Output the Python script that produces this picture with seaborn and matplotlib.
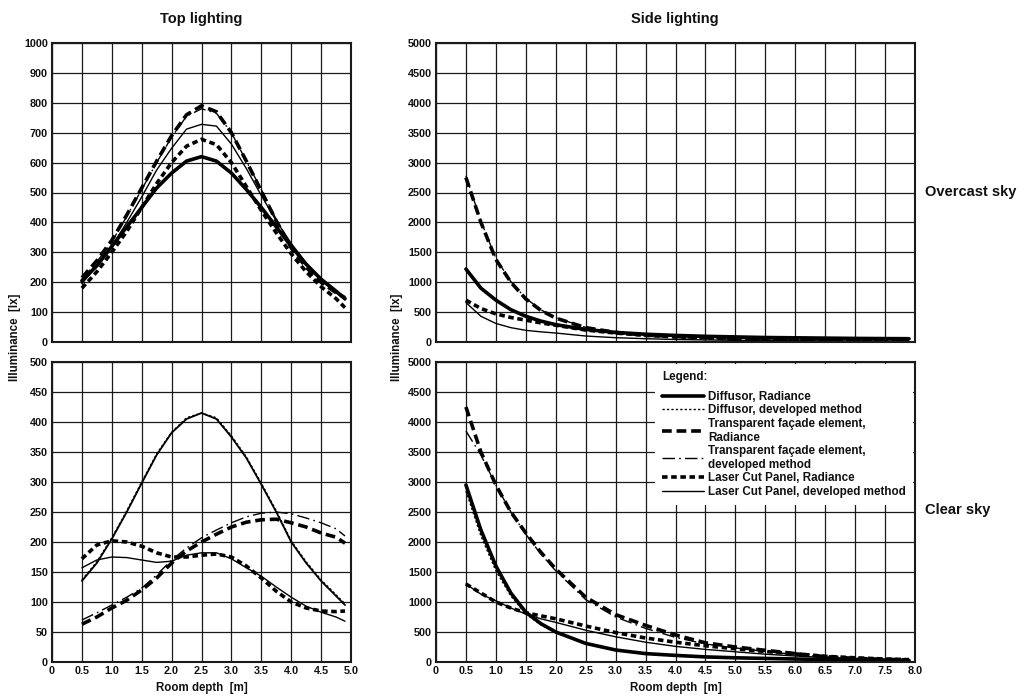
import matplotlib
matplotlib.use("Agg")
import matplotlib.pyplot as plt
from matplotlib.lines import Line2D
import numpy as np
import seaborn as sns

# ---------------- data ----------------
x_top = [0.5, 0.75, 1.0, 1.25, 1.5, 1.75, 2.0, 2.25, 2.5, 2.75, 3.0, 3.25, 3.5, 3.75, 4.0, 4.25, 4.5, 4.75, 4.9]
x_side = [0.5, 0.75, 1.0, 1.25, 1.5, 1.75, 2.0, 2.5, 3.0, 3.5, 4.0, 4.5, 5.0, 5.5, 6.0, 6.5, 7.0, 7.5, 7.9]

# Top lighting, overcast sky
top_oc_diff_rad = [205, 255, 320, 385, 450, 515, 565, 605, 620, 605, 565, 510, 450, 385, 320, 260, 210, 170, 145]
top_oc_diff_dev = [200, 252, 318, 383, 448, 513, 563, 603, 618, 603, 563, 508, 448, 383, 318, 258, 208, 168, 143]
top_oc_tfe_rad = [215, 272, 340, 425, 515, 605, 690, 760, 790, 770, 700, 605, 505, 405, 315, 250, 200, 165, 148]
top_oc_tfe_dev = [210, 268, 335, 420, 510, 600, 685, 755, 780, 765, 700, 605, 510, 410, 320, 255, 205, 165, 145]
top_oc_lcp_rad = [180, 235, 300, 370, 450, 530, 600, 655, 678, 660, 600, 520, 440, 365, 295, 235, 185, 145, 115]
top_oc_lcp_dev = [195, 255, 320, 400, 485, 575, 648, 712, 728, 722, 662, 580, 490, 405, 330, 265, 210, 165, 140]

# Top lighting, clear sky
top_cl_diff_rad = [135, 165, 205, 250, 298, 345, 382, 405, 415, 405, 375, 340, 296, 250, 200, 165, 135, 110, 95]
top_cl_diff_dev = [137, 167, 207, 252, 300, 347, 383, 407, 415, 407, 377, 342, 298, 252, 202, 167, 137, 112, 97]
top_cl_tfe_rad = [63, 75, 90, 103, 120, 140, 165, 185, 200, 213, 225, 233, 237, 238, 232, 225, 215, 208, 198]
top_cl_tfe_dev = [70, 82, 95, 108, 123, 145, 170, 190, 207, 220, 232, 242, 248, 250, 247, 240, 232, 222, 210]
top_cl_lcp_rad = [172, 195, 202, 200, 193, 182, 175, 175, 178, 180, 175, 160, 140, 118, 100, 90, 85, 84, 85]
top_cl_lcp_dev = [157, 170, 175, 174, 170, 166, 168, 178, 182, 182, 172, 157, 143, 125, 108, 93, 83, 75, 68]

# Side lighting, overcast sky
side_oc_diff_rad = [1220, 900, 700, 540, 430, 350, 290, 210, 160, 130, 110, 95, 85, 75, 70, 65, 60, 57, 55]
side_oc_diff_dev = [1240, 920, 710, 550, 440, 360, 300, 215, 165, 135, 115, 100, 90, 80, 72, 67, 62, 58, 55]
side_oc_tfe_rad = [2750, 2000, 1380, 1000, 720, 530, 400, 240, 160, 115, 90, 75, 62, 55, 48, 43, 40, 37, 35]
side_oc_tfe_dev = [2780, 2020, 1400, 1010, 730, 540, 405, 245, 162, 117, 92, 76, 63, 55, 48, 43, 40, 37, 35]
side_oc_lcp_rad = [700, 560, 470, 410, 365, 320, 280, 200, 150, 110, 85, 70, 55, 48, 42, 38, 35, 32, 30]
side_oc_lcp_dev = [660, 430, 310, 240, 195, 170, 150, 100, 72, 55, 42, 35, 28, 24, 21, 19, 17, 16, 15]

# Side lighting, clear sky
side_cl_diff_rad = [2950, 2200, 1600, 1150, 830, 640, 500, 310, 200, 140, 110, 85, 70, 60, 50, 42, 35, 30, 25]
side_cl_diff_dev = [2850, 2100, 1520, 1100, 800, 620, 490, 305, 198, 138, 108, 84, 69, 59, 49, 41, 35, 30, 25]
side_cl_tfe_rad = [4250, 3500, 2950, 2500, 2150, 1830, 1550, 1080, 790, 610, 450, 320, 250, 195, 140, 90, 60, 45, 35]
side_cl_tfe_dev = [3850, 3450, 2950, 2500, 2130, 1800, 1520, 1040, 750, 560, 410, 300, 235, 175, 125, 85, 60, 45, 35]
side_cl_lcp_rad = [1300, 1150, 1000, 900, 820, 770, 720, 600, 490, 400, 330, 270, 220, 175, 135, 95, 70, 50, 40]
side_cl_lcp_dev = [1300, 1130, 1020, 900, 800, 720, 660, 530, 420, 330, 260, 210, 170, 130, 100, 75, 60, 45, 35]

series_labels = [
    "Diffusor, Radiance",
    "Diffusor, developed method",
    "Transparent façade element,\nRadiance",
    "Transparent façade element,\ndeveloped method",
    "Laser Cut Panel, Radiance",
    "Laser Cut Panel, developed method",
]

# ---------------- style ----------------
sns.set_theme(style="white")
plt.rcParams["font.family"] = ["Liberation Sans", "DejaVu Sans"]
plt.rcParams["font.weight"] = "bold"
plt.rcParams["lines.scale_dashes"] = False
for key in ["text.color", "axes.labelcolor", "xtick.color", "ytick.color"]:
    plt.rcParams[key] = "#111111"

styles = [
    dict(linewidth=2.6, linestyle="-"),
    dict(linewidth=1.0, linestyle=(0, (1.6, 1.6))),
    dict(linewidth=2.6, linestyle=(0, (7, 3.5))),
    dict(linewidth=1.0, linestyle=(0, (9, 3, 1.2, 3))),
    dict(linewidth=2.6, linestyle=(0, (4, 2.6))),
    dict(linewidth=1.0, linestyle="-"),
]

fig = plt.figure(figsize=(10.35, 6.97), dpi=100)
W, H = 1035.0, 697.0


def make_ax(left, top, right, bottom):
    return fig.add_axes([left / W, 1 - bottom / H, (right - left) / W, (bottom - top) / H])


ax_tl = make_ax(52, 43, 351, 342)
ax_bl = make_ax(52, 362, 351, 662)
ax_tr = make_ax(436, 43, 915, 342)
ax_br = make_ax(436, 362, 915, 662)

panels = [
    (ax_tl, x_top, [top_oc_diff_rad, top_oc_diff_dev, top_oc_tfe_rad, top_oc_tfe_dev, top_oc_lcp_rad, top_oc_lcp_dev],
     5.0, 1000, 100, False),
    (ax_bl, x_top, [top_cl_diff_rad, top_cl_diff_dev, top_cl_tfe_rad, top_cl_tfe_dev, top_cl_lcp_rad, top_cl_lcp_dev],
     5.0, 500, 50, True),
    (ax_tr, x_side, [side_oc_diff_rad, side_oc_diff_dev, side_oc_tfe_rad, side_oc_tfe_dev, side_oc_lcp_rad, side_oc_lcp_dev],
     8.0, 5000, 500, False),
    (ax_br, x_side, [side_cl_diff_rad, side_cl_diff_dev, side_cl_tfe_rad, side_cl_tfe_dev, side_cl_lcp_rad, side_cl_lcp_dev],
     8.0, 5000, 500, True),
]

for ax, xs, ys_list, xmax, ymax, ystep, show_x in panels:
    for i, ys in enumerate(ys_list):
        st = dict(styles[i])
        if ax is ax_bl and i == 0:
            st["linewidth"] = 1.3
        sns.lineplot(x=xs, y=ys, ax=ax, color="black", sort=False, errorbar=None, **st)
    ax.set_xlim(0, xmax)
    ax.set_ylim(0, ymax)
    xt = np.arange(0, xmax + 0.01, 0.5)
    ax.set_xticks(xt)
    ax.set_yticks(np.arange(0, ymax + 1, ystep))
    if show_x:
        ax.set_xticklabels(["0" if v == 0 else f"{v:.1f}" for v in xt])
        ax.set_xlabel("Room depth  [m]", fontsize=8.3, fontweight="bold", labelpad=4)
    else:
        ax.set_xticklabels([])
        ax.set_xlabel("")
    ax.set_ylabel("")
    ax.grid(True, color="#1a1a1a", linewidth=0.9)
    ax.set_axisbelow(True)
    ax.tick_params(axis="both", length=0, pad=3, labelsize=7.8)
    for lab in ax.get_xticklabels() + ax.get_yticklabels():
        lab.set_fontweight("bold")
    for sp in ax.spines.values():
        sp.set_visible(True)
        sp.set_color("#1a1a1a")
        sp.set_linewidth(1.5)
    leg = ax.get_legend()
    if leg is not None:
        leg.remove()

handles = [Line2D([0], [0], color="black", **st) for st in styles]
leg = ax_br.legend(handles, series_labels, loc="upper right", bbox_to_anchor=(1.0, 1.0),
                   title="Legend:", alignment="left", frameon=True, fancybox=False,
                   framealpha=1, facecolor="white", edgecolor="none", borderaxespad=0.15,
                   handlelength=3.6, handletextpad=0.35, labelspacing=0.12, borderpad=0.6,
                   prop={"weight": "bold", "size": 8.4},
                   title_fontproperties={"weight": "bold", "size": 8.4})
leg._legend_box.sep = 6
leg.set_zorder(5)

# ---------------- texts ----------------
fig.text(201 / W, 1 - 19 / H, "Top lighting", ha="center", va="center", fontsize=10.5, fontweight="bold")
fig.text(675 / W, 1 - 19 / H, "Side lighting", ha="center", va="center", fontsize=10.5, fontweight="bold")
fig.text(925 / W, 1 - 192 / H, "Overcast sky", ha="left", va="center", fontsize=10.5, fontweight="bold")
fig.text(925 / W, 1 - 510 / H, "Clear sky", ha="left", va="center", fontsize=10.5, fontweight="bold")
fig.text(15 / W, 1 - 337 / H, "Illuminance  [lx]", rotation=90, ha="center", va="center", fontsize=8.3, fontweight="bold")
fig.text(397 / W, 1 - 337 / H, "Illuminance  [lx]", rotation=90, ha="center", va="center", fontsize=8.3, fontweight="bold")

fig.savefig("out.png", dpi=100, facecolor="white")
